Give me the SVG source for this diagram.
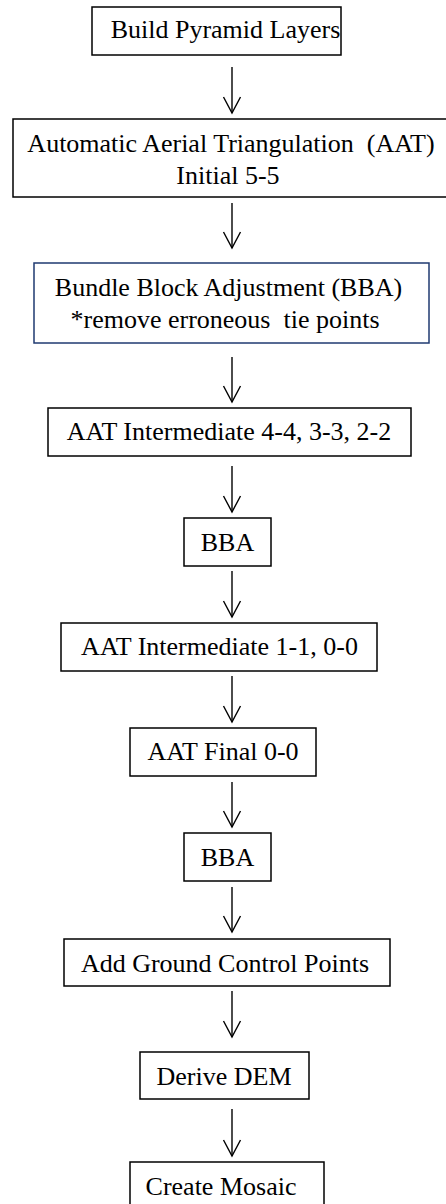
<svg xmlns="http://www.w3.org/2000/svg" width="446" height="1204" viewBox="0 0 446 1204">
<style>
  .box { fill: #ffffff; stroke: #000000; stroke-width: 1.5; }
  .blue { stroke: #1F3A70; }
  .t { font-family: "Liberation Serif", "Times New Roman", serif; font-size: 26px; fill: #000000; text-anchor: middle; white-space: pre; }
  .conn line, .conn polyline { fill: none; stroke: #000000; stroke-width: 1.4; }
</style>
<rect width="446" height="1204" fill="#ffffff"/>
<g id="connectors" class="conn">
  <line x1="232" y1="67" x2="232" y2="113"/><polyline points="223.5,97 232,113 240.5,97"/>
  <line x1="232" y1="203" x2="232" y2="248"/><polyline points="223.5,232 232,248 240.5,232"/>
  <line x1="232" y1="357" x2="232" y2="402"/><polyline points="223.5,386 232,402 240.5,386"/>
  <line x1="232" y1="466" x2="232" y2="512"/><polyline points="223.5,496 232,512 240.5,496"/>
  <line x1="232" y1="571" x2="232" y2="617"/><polyline points="223.5,601 232,617 240.5,601"/>
  <line x1="232" y1="676" x2="232" y2="722"/><polyline points="223.5,706 232,722 240.5,706"/>
  <line x1="232" y1="782" x2="232" y2="827"/><polyline points="223.5,811 232,827 240.5,811"/>
  <line x1="232" y1="887" x2="232" y2="932"/><polyline points="223.5,916 232,932 240.5,916"/>
  <line x1="232" y1="991" x2="232" y2="1037"/><polyline points="223.5,1021 232,1037 240.5,1021"/>
  <line x1="232" y1="1109" x2="232" y2="1156"/><polyline points="223.5,1140 232,1156 240.5,1140"/>
</g>
<g id="n1"><rect class="box" x="92" y="7" width="249" height="48"/><text class="t" x="225.5" y="38">Build Pyramid Layers</text></g>
<g id="n2"><rect class="box" x="13" y="119" width="440" height="78"/><text class="t" x="231" y="152" xml:space="preserve">Automatic Aerial Triangulation  (AAT)</text><text class="t" x="228" y="184">Initial 5-5</text></g>
<g id="n3"><rect class="box blue" x="34" y="263" width="395" height="80"/><text class="t" x="228.5" y="296">Bundle Block Adjustment (BBA)</text><text class="t" x="225" y="328" xml:space="preserve">*remove erroneous  tie points</text></g>
<g id="n4"><rect class="box" x="48" y="408" width="363" height="48"/><text class="t" x="229" y="440">AAT Intermediate 4-4, 3-3, 2-2</text></g>
<g id="n5"><rect class="box" x="184" y="518" width="87" height="48"/><text class="t" x="227.5" y="551">BBA</text></g>
<g id="n6"><rect class="box" x="61" y="623" width="316" height="48"/><text class="t" x="219.5" y="655">AAT Intermediate 1-1, 0-0</text></g>
<g id="n7"><rect class="box" x="130" y="728" width="186" height="48"/><text class="t" x="223" y="760">AAT Final 0-0</text></g>
<g id="n8"><rect class="box" x="184" y="833" width="87" height="48"/><text class="t" x="227.5" y="866">BBA</text></g>
<g id="n9"><rect class="box" x="64" y="939" width="326" height="47"/><text class="t" x="225" y="972">Add Ground Control Points</text></g>
<g id="n10"><rect class="box" x="140" y="1052" width="169" height="47"/><text class="t" x="224" y="1085">Derive DEM</text></g>
<g id="n11"><rect class="box" x="130" y="1162" width="194" height="50"/><text class="t" x="221" y="1195">Create Mosaic</text></g>
</svg>
